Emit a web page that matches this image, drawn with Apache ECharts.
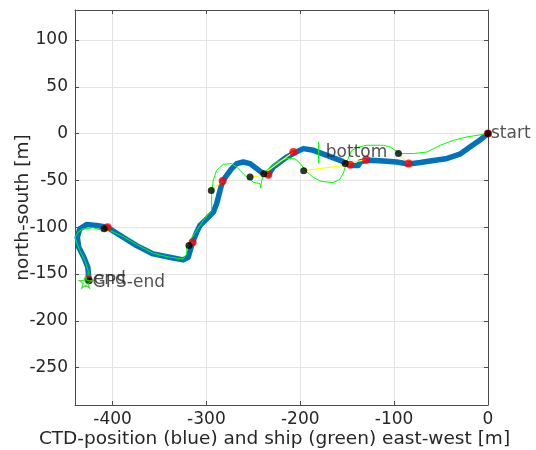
<!DOCTYPE html>
<html><head><meta charset="utf-8">
<script src="https://cdn.jsdelivr.net/npm/echarts@6/dist/echarts.min.js"></script>
<style>html,body{margin:0;padding:0;background:#fff}#c{width:536px;height:450px}</style>
</head><body><div id="c"></div>
<script>
// CTD track (blue)
const ctdX = [0,-10,-20,-30,-45,-60,-72,-85,-97.1,-111.4,-125.5,-132.7,-136.2,-138,-145,-150.4,-157.5,-171.7,-186,-196.7,-206.6,-214.4,-221.5,-228.7,-234,-239.4,-246.4,-253.5,-260.7,-267.7,-273.1,-278.4,-282.7,-285.5,-289.1,-292.7,-299.7,-306.9,-310.4,-314.7,-319.4,-324.7,-335.4,-356.7,-374.4,-388.7,-402.9,-405.3,-417.1,-427.7,-434.9,-437.5,-436,-430.6,-426.3,-425.3];
const ctdY = [0,-8,-15,-22,-27,-29,-31,-32.5,-30.4,-29.4,-28.6,-29.4,-30.4,-34,-34,-32.1,-28.6,-23.3,-17.9,-16.1,-20.8,-25.1,-30.4,-35.8,-43.9,-42.9,-37.5,-32.1,-30.4,-32.1,-37.5,-44.7,-50.8,-60.8,-75,-84,-91.1,-98.3,-105.4,-116.1,-132.2,-135,-132.9,-128.6,-119.7,-110.8,-101.8,-100.1,-98.3,-97.2,-101.8,-110.8,-121.5,-132.2,-142.9,-155];
// ship track (green)
const shipX = [0,-22.4,-36.7,-50.9,-65.1,-79.4,-93.5,-104.2,-111.4,-129,-138,-145,-148,-151,-154,-158,-165,-178,-186,-194,-200,-205.5,-214.4,-225.1,-232.2,-237.5,-241.1,-242.1,-242.9,-250,-257.1,-262.4,-267.7,-273.1,-282,-289.1,-292.7,-294.4,-294.4,-303.4,-317.5,-320.9,-321,-324.7,-338.9,-356.7,-374.4,-388.7,-402.9,-409.8,-420.7,-431.4,-436.7,-440,-438.4,-434.9,-429.5,-426,-426];
const shipY = [0,-3.6,-7.2,-12.5,-19.7,-21.4,-21.4,-14.4,-12.5,-12.5,-14.4,-17.9,-24,-32,-42,-49,-52.5,-51,-47,-40,-32,-27,-26.8,-30.4,-35.8,-41.1,-50,-57.9,-53.6,-51.9,-46.5,-41.1,-35.8,-32.1,-32.9,-39.3,-50,-66.1,-82.2,-92.9,-114.3,-121.5,-128.6,-133.9,-132.2,-127.9,-118.6,-110,-103.6,-103.6,-100.7,-101.8,-105.4,-110.8,-116.1,-125,-135.7,-146.4,-157];
// CTD position marks (red) and ship position marks (black)
const ctdMarkX = [0,-84.7,-129.8,-146.9,-207.4,-234,-282.7,-314.7,-405.3,-425.7];
const ctdMarkY = [0,-32.1,-27.9,-33.2,-19.7,-43.9,-50.8,-116.1,-100.1,-156];
const shipMarkX = [0,-95.4,-152.2,-196.3,-238.8,-253.5,-294.8,-318.6,-409,-425];
const shipMarkY = [0,-21.4,-32.1,-39.7,-42.9,-46.5,-60.8,-119.7,-101.8,-157.2];
// bottom marker (green vertical) and GPS end star
const bottomMarkX = [-180.6,-180.6];
const bottomMarkY = [-9,-32];
const gpsEndX = [-428.7];
const gpsEndY = [-158.7];
// text annotations
const labelNames = ['start','bottom','end','GPS-end'];
const labelX = [0,-176,-425.3,-428.7];
const labelY = [0,-20,-156,-158.7];
// axes
const xRange = [-440,0];
const yRange = [-290,132];
const xAxisTitle = 'CTD-position (blue) and ship (green) east-west [m]';
const yAxisTitle = 'north-south [m]';

const zip = (a,b) => a.map((v,i)=>[v,b[i]]);
const FONT = 'DejaVu Sans';
const TXT = '#262626';
const AX = '#4a4a4a';
const GRIDC = '#e3e3e3';
const labelOffsets = [3,3,5,7];

const axisCommon = {
  type:'value',
  nameMoveOverlap:false,
  axisLine:{show:true,onZero:false,lineStyle:{color:AX,width:1}},
  axisTick:{show:true,inside:true,length:4,lineStyle:{color:AX}},
};

const chart = echarts.init(document.getElementById('c'),null,{renderer:'canvas'});
chart.setOption({
  animation:false,
  backgroundColor:'#fff',
  grid:{left:75,right:48,top:10,bottom:45,containLabel:false,outerBoundsMode:'none'},
  xAxis:[
    Object.assign({},axisCommon,{position:'bottom',min:xRange[0],max:xRange[1],splitNumber:5,minInterval:100,maxInterval:100,
      name:xAxisTitle,nameLocation:'middle',nameGap:25,
      nameTextStyle:{fontFamily:FONT,fontSize:18.5,color:TXT,padding:[0,14,0,0]},
      axisLabel:{fontFamily:FONT,fontSize:17,color:TXT,margin:6,showMinLabel:false},
      splitLine:{show:true,lineStyle:{color:GRIDC,width:1}}}),
    Object.assign({},axisCommon,{position:'top',min:xRange[0],max:xRange[1],splitNumber:5,minInterval:100,maxInterval:100,
      axisLabel:{show:false},splitLine:{show:false}})
  ],
  yAxis:[
    Object.assign({},axisCommon,{position:'left',min:yRange[0],max:yRange[1],splitNumber:8,minInterval:50,maxInterval:50,
      name:yAxisTitle,nameLocation:'middle',nameGap:42,
      nameTextStyle:{fontFamily:FONT,fontSize:18.5,color:TXT},
      axisLabel:{fontFamily:FONT,fontSize:17,color:TXT,margin:7,showMinLabel:false,showMaxLabel:false},
      splitLine:{show:true,lineStyle:{color:GRIDC,width:1}}}),
    Object.assign({},axisCommon,{position:'right',min:yRange[0],max:yRange[1],splitNumber:8,minInterval:50,maxInterval:50,
      axisLabel:{show:false},splitLine:{show:false}})
  ],
  series:[
    {type:'line',data:zip(ctdX,ctdY),showSymbol:false,symbol:'none',smooth:false,
     lineStyle:{color:'#0072BD',width:5.5,cap:'round',join:'round'},z:2},
    {type:'line',data:zip(shipX,shipY),showSymbol:false,symbol:'none',
     lineStyle:{color:'#00ff00',width:1},z:3},
    {type:'line',data:zip(bottomMarkX,bottomMarkY),showSymbol:false,symbol:'none',
     lineStyle:{color:'#00ff00',width:1},z:3},
    {type:'lines',coordinateSystem:'cartesian2d',z:4,
     data:shipMarkX.map((v,i)=>({coords:[[v,shipMarkY[i]],[ctdMarkX[i],ctdMarkY[i]]]})),
     lineStyle:{color:'#ffff00',width:1.2,opacity:1}},
    {type:'scatter',data:zip(ctdMarkX,ctdMarkY),symbol:'circle',symbolSize:8,
     itemStyle:{color:'#ff0000'},z:5},
    {type:'scatter',data:zip(shipMarkX,shipMarkY),symbol:'circle',symbolSize:7,
     itemStyle:{color:'#000000'},z:6},
    {type:'scatter',data:zip(gpsEndX,gpsEndY),symbolKeepAspect:true,
     symbol:'path://M0,-10 L2.245,-3.09 L9.51,-3.09 L3.633,1.18 L5.878,8.09 L0,3.82 L-5.878,8.09 L-3.633,1.18 L-9.51,-3.09 L-2.245,-3.09 Z',
     symbolSize:13,itemStyle:{color:'rgba(0,255,0,0.25)',borderColor:'#22dd22',borderWidth:1.2},z:7},
    {type:'scatter',z:8,symbolSize:0,
     data:labelNames.map((n,i)=>({value:[labelX[i],labelY[i]],name:n,
       label:{show:true,position:'right',distance:labelOffsets[i],formatter:n,
         fontFamily:FONT,fontSize:17,color:TXT}})),
     itemStyle:{color:'transparent'}}
  ]
});
</script></body></html>
